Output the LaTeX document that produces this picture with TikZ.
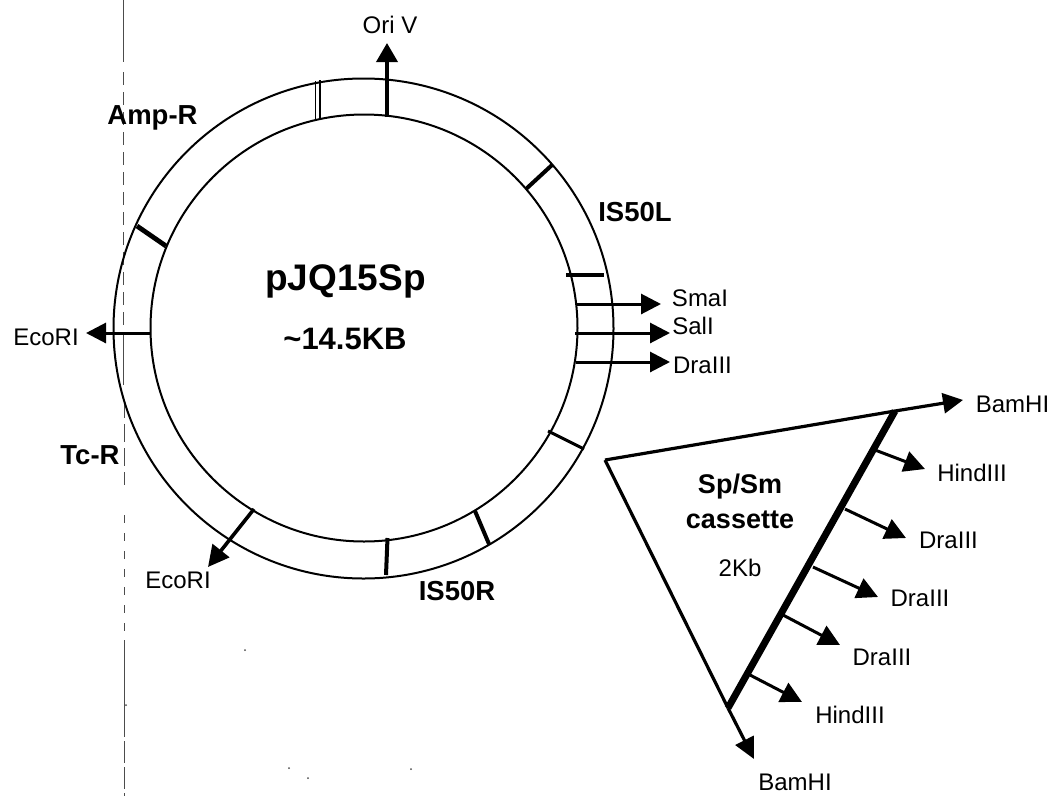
\documentclass[tikz,border=0pt]{standalone}
\usepackage{fontspec}
\setmainfont{Liberation Sans}
\usetikzlibrary{arrows.meta}
\tikzset{
  ring/.style={draw=black,circle,line width=2pt,inner sep=0pt,outer sep=0pt},
  lbl/.style={anchor=base,inner sep=0pt,font=\fontsize{24}{24}\selectfont},
  blbl/.style={anchor=base,inner sep=0pt,font=\fontsize{27.5}{27.5}\selectfont\bfseries},
  marker/.style={line width=4pt,black},
  arrowline/.style={line width=3pt,black,-{Triangle[length=20pt,width=20pt]}},
  branch/.style={line width=3pt,black,-{Triangle[length=21pt,width=21pt]}},
  side/.style={line width=3.2pt,black},
  scanline/.style={line width=0.9pt,black!70},
  speck/.style={fill=black!70,draw=none}
}
\begin{document}
\begin{tikzpicture}[x=1pt,y=-1pt]
\useasboundingbox (0,0) rectangle (1058,796);
\fill[white] (0,0) rectangle (1058,796);

% scan artefact line
\draw[scanline] (123,0) -- (123,62);
\draw[scanline,dash pattern=on 13pt off 7pt] (123,72) -- (123,335);
\draw[scanline] (123,335) -- (123,385);
\draw[scanline,dash pattern=on 18pt off 6pt] (124,400) -- (124,485);
\draw[scanline,dash pattern=on 8pt off 10pt] (124,515) -- (124,640);
\draw[scanline] (124,640) -- (124,715);
\draw[scanline,dash pattern=on 22pt off 4pt] (124,715) -- (124,796);

% plasmid ring
\node[ring,minimum size=500pt] (outer) at (363.5,328.5) {};
\node[ring,minimum size=427pt] (inner) at (364,328) {};

% coordinates of ring features
\coordinate (dblA1) at (315.5,120);
\coordinate (dblB1) at (315.5,81);
\coordinate (dblA2) at (320,119);
\coordinate (dblB2) at (320,80);
\coordinate (oriS) at (387,117);
\coordinate (oriE) at (387,43);
\coordinate (t1a) at (137,226);
\coordinate (t1b) at (166,246);
\coordinate (ecoLs) at (151,333);
\coordinate (ecoLe) at (86,333);
\coordinate (t2a) at (526,189);
\coordinate (t2b) at (552,165);
\coordinate (t3a) at (566,275);
\coordinate (t3b) at (604,275);
\coordinate (smaS) at (576,304);
\coordinate (smaE) at (661,304);
\coordinate (salS) at (575,333);
\coordinate (salE) at (670,333);
\coordinate (draS) at (576,362);
\coordinate (draE) at (670,362);
\coordinate (t4a) at (548,431);
\coordinate (t4b) at (584,449);
\coordinate (ecoBs) at (254,509);
\coordinate (ecoBe) at (208,567);
\coordinate (t5a) at (387.5,538);
\coordinate (t5b) at (386,575);
\coordinate (t6a) at (475,511);
\coordinate (t6b) at (489,544);

% cassette coordinates
\coordinate (apex) at (605,460);
\coordinate (casT) at (895,411);
\coordinate (casB) at (728,708);
\coordinate (bamTe) at (963,400);
\coordinate (bamBe) at (754,759);
\coordinate (b1s) at (875,450);
\coordinate (b1e) at (925,469);
\coordinate (b2s) at (845,509);
\coordinate (b2e) at (906,538);
\coordinate (b3s) at (813,567);
\coordinate (b3e) at (878,597);
\coordinate (b4s) at (783,615);
\coordinate (b4e) at (840,645);
\coordinate (b5s) at (750,675);
\coordinate (b5e) at (802,702);

% ring markers
\draw[line width=1.5pt] (dblA1) -- (dblB1);
\draw[line width=1.5pt] (dblA2) -- (dblB2);
\draw[line width=3.6pt,black,-{Triangle[length=19pt,width=21pt]}] (oriS) -- (oriE);
\draw[marker,line width=4.8pt] (t1a) -- (t1b);
\draw[arrowline] (ecoLs) -- (ecoLe);
\draw[marker] (t2a) -- (t2b);
\draw[marker,line width=3.4pt] (t3a) -- (t3b);
\draw[arrowline] (smaS) -- (smaE);
\draw[arrowline] (salS) -- (salE);
\draw[arrowline] (draS) -- (draE);
\draw[marker,line width=3pt] (t4a) -- (t4b);
\draw[line width=3.6pt,black,-{Triangle[length=21pt,width=21pt]}] (ecoBs) -- (ecoBe);
\draw[marker] (t5a) -- (t5b);
\draw[marker] (t6a) -- (t6b);

% cassette
\draw[side] (apex) -- (casT);
\draw[side,-{Triangle[length=20pt,width=20pt]}] (casT) -- (bamTe);
\draw[side] (apex) -- (casB);
\draw[side,-{Triangle[length=21pt,width=20pt]}] (casB) -- (bamBe);
\draw[line width=7pt,black] (casT) -- (casB);
\draw[branch] (b1s) -- (b1e);
\draw[branch] (b2s) -- (b2e);
\draw[branch] (b3s) -- (b3e);
\draw[branch] (b4s) -- (b4e);
\draw[branch] (b5s) -- (b5e);

% labels
\node[lbl] (lOri) at (390,33) {Ori V};
\node[blbl] (lAmp) at (152.5,124) {Amp-R};
\node[blbl] (lTc) at (90,464) {Tc-R};
\node[blbl] (lL) at (635,221) {IS50L};
\node[blbl] (lR) at (457,600) {IS50R};
\node[anchor=base,inner sep=0pt,font=\fontsize{37}{37}\selectfont\bfseries] (lName) at (345.5,290) {pJQ15Sp};
\node[anchor=base,inner sep=0pt,font=\fontsize{31}{31}\selectfont\bfseries] (lSize) at (345,349) {\char`\~14.5KB};
\node[lbl] (lE1) at (46,345) {EcoRI};
\node[lbl] (lE2) at (178,588) {EcoRI};
\node[lbl] (lSma) at (700,306) {SmaI};
\node[lbl] (lSal) at (693,334) {SalI};
\node[lbl] (lDra) at (702.5,373) {DraIII};
\node[lbl] (lBamT) at (1012.5,412) {BamHI};
\node[lbl] (lH1) at (972,481) {HindIII};
\node[lbl] (lD1) at (948.5,548) {DraIII};
\node[lbl] (lD2) at (920,606) {DraIII};
\node[lbl] (lD3) at (882,665) {DraIII};
\node[lbl] (lH2) at (850,723) {HindIII};
\node[lbl] (lBamB) at (795,790) {BamHI};
\node[blbl,font=\fontsize{27}{27}\selectfont\bfseries] (lSp) at (740,493) {Sp/Sm};
\node[blbl,font=\fontsize{27}{27}\selectfont\bfseries] (lCas) at (740,528) {cassette};
\node[lbl] (l2k) at (740,576) {2Kb};

% specks
\fill[speck] (245,650) circle (1pt);
\fill[speck] (289,768) circle (1pt);
\fill[speck] (308,778) circle (1pt);
\fill[speck] (411,769) circle (1pt);
\fill[speck] (126,705) circle (1pt);
\end{tikzpicture}
\end{document}
